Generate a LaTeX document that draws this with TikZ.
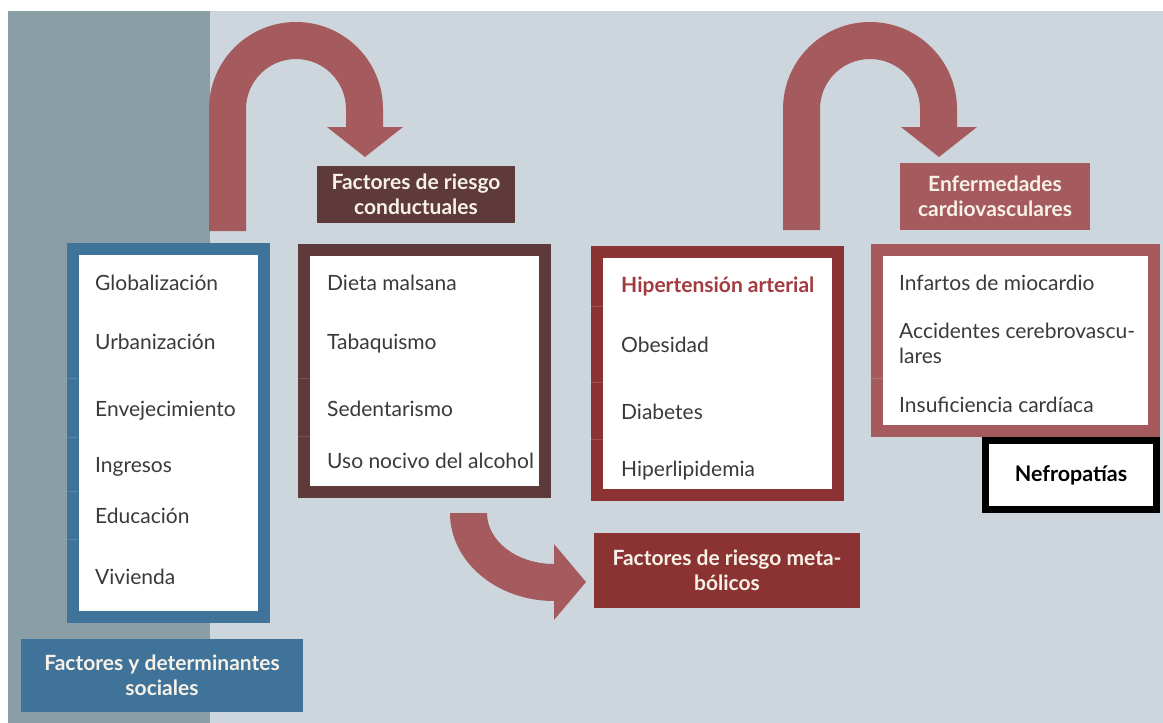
\documentclass[tikz,border=0pt]{standalone}
\usepackage{fontspec}
\setmainfont{Lato}
\definecolor{bglight}{HTML}{CDD6DC}
\definecolor{panel}{HTML}{8A9EA6}
\definecolor{cblue}{HTML}{3F7399}
\definecolor{cbrown}{HTML}{5E3A3B}
\definecolor{cred}{HTML}{8B3333}
\definecolor{crose}{HTML}{A55B5D}
\definecolor{ctext}{HTML}{3A3A3A}
\definecolor{chyper}{HTML}{A23A3E}
\definecolor{ccream}{HTML}{F8F1E7}
\tikzset{
  listbox/.style={draw=#1, line width=12pt, fill=white, inner sep=0pt, outer sep=0pt},
  labelbox/.style={fill=#1, inner sep=0pt, outer sep=0pt, text=ccream, align=center,
    font=\fontsize{21}{25}\selectfont\bfseries},
  item/.style={anchor=base west, inner sep=0pt, text=ctext, font=\fontsize{21}{25}\selectfont},
  tick/.style={draw=white, opacity=0.15, line width=0.8pt},
  bigarrow/.style={fill=crose, draw=none}
}
\begin{document}
\begin{tikzpicture}[x=1pt,y=-1pt]
\useasboundingbox (0,0) rectangle (1163,723);
\fill[white] (0,0) rectangle (1163,723);
\fill[bglight] (8,11) rectangle (1163,723);
\fill[panel] (8,11) rectangle (210,723);

% big U arrows
\fill[bigarrow] (209,231) -- (209,109) arc[start angle=180, end angle=360, radius=87]
  -- (383,127) -- (403,127) -- (365,157) -- (327,127) -- (346,127) -- (346,109)
  arc[start angle=360, end angle=180, radius=50] -- (246,231) -- cycle;
\fill[bigarrow] (783,230) -- (783,109) arc[start angle=180, end angle=360, radius=87]
  -- (957,127) -- (977,127) -- (939,157) -- (901,127) -- (920,127) -- (920,109)
  arc[start angle=360, end angle=180, radius=50] -- (820,230) -- cycle;
% curved arrow
\fill[bigarrow] (450,513) arc[start angle=180, end angle=90, x radius=104, y radius=88]
  -- (554,620) -- (586,582) -- (554,544) -- (554,564)
  arc[start angle=90, end angle=180, x radius=67, y radius=51] -- cycle;

% list boxes
\node[listbox=cblue, minimum width=191pt, minimum height=368pt] (soc) at (168.5,433) {};
\node[listbox=cbrown, minimum width=241pt, minimum height=242pt] (con) at (424.5,371) {};
\node[listbox=cred, minimum width=241pt, minimum height=243pt] (met) at (717,373) {};
\node[listbox=crose, minimum width=277pt, minimum height=181pt] (car) at (1015.5,340.5) {};
\node[draw=black, line width=7pt, fill=white, inner sep=0pt, minimum width=171pt, minimum height=69pt,
  font=\fontsize{21.5}{25}\selectfont\bfseries, text=black] (nef) at (1071,475) {Nefropatías};

% faint ticks in left borders
\foreach \y in {378,437,491,539} \draw[tick] (67,\y) -- (78,\y);
\foreach \y in {378,436} \draw[tick] (298,\y) -- (310,\y);
\foreach \y in {306,382,439} \draw[tick] (590,\y) -- (604,\y);
\foreach \y in {378} \draw[tick] (871,\y) -- (883,\y);

% items
\node[item] (s1) at (95,290) {Globalización};
\node[item] (s2) at (95,349) {Urbanización};
\node[item] (s3) at (95,416) {Envejecimiento};
\node[item] (s4) at (95,472) {Ingresos};
\node[item] (s5) at (95,523) {Educación};
\node[item] (s6) at (95,584) {Vivienda};

\node[item] (c1) at (327,290) {Dieta malsana};
\node[item] (c2) at (327,349) {Tabaquismo};
\node[item] (c3) at (327,416) {Sedentarismo};
\node[item] (c4) at (327,468) {Uso nocivo del alcohol};

\node[item, text=chyper, font=\fontsize{21}{25}\selectfont\bfseries] (m1) at (621,292) {Hipertensión arterial};
\node[item] (m2) at (621,352) {Obesidad};
\node[item] (m3) at (621,419) {Diabetes};
\node[item] (m4) at (621,476) {Hiperlipidemia};

\node[item] (e1) at (899,290) {Infartos de miocardio};
\node[item] (e2) at (899,338) {Accidentes cerebrovascu-};
\node[item] (e2b) at (899,363) {lares};
\node[item] (e3) at (899,412) {Insuficiencia cardíaca};

% label boxes
\node[labelbox=cbrown, minimum width=198pt, minimum height=57pt] (lcon) at (416,194.5) {Factores de riesgo\\conductuales};
\node[labelbox=crose, minimum width=190pt, minimum height=67pt] (lcar) at (995,196.5) {Enfermedades\\cardiovasculares};
\node[labelbox=cred, minimum width=266pt, minimum height=75pt] (lmet) at (727,570.5) {Factores de riesgo meta-\\bólicos};
\node[labelbox=cblue, minimum width=282pt, minimum height=73pt] (lsoc) at (162,675.5) {Factores y determinantes\\sociales};
\end{tikzpicture}
\end{document}
